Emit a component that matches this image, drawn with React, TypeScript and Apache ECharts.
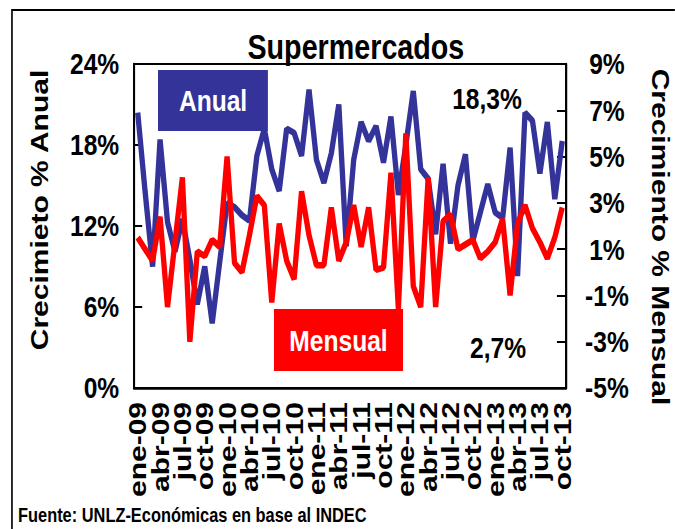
import React, { useEffect, useRef } from "react";
import * as echarts from "echarts";

const categories = [
  "ene-09","feb-09","mar-09","abr-09","may-09","jun-09","jul-09","ago-09","sep-09","oct-09","nov-09","dic-09",
  "ene-10","feb-10","mar-10","abr-10","may-10","jun-10","jul-10","ago-10","sep-10","oct-10","nov-10","dic-10",
  "ene-11","feb-11","mar-11","abr-11","may-11","jun-11","jul-11","ago-11","sep-11","oct-11","nov-11","dic-11",
  "ene-12","feb-12","mar-12","abr-12","may-12","jun-12","jul-12","ago-12","sep-12","oct-12","nov-12","dic-12",
  "ene-13","feb-13","mar-13","abr-13","may-13","jun-13","jul-13","ago-13","sep-13","oct-13",
];

// Crecimiento % Anual (left axis)
const anual = [
  20.4, 14.5, 9.0, 18.4, 12.3, 10.1, 12.5, 9.5, 6.2, 9.0, 4.8, 9.3,
  13.7, 13.4, 12.8, 12.4, 17.2, 19.2, 16.2, 14.6, 19.2, 18.9, 17.2, 22.1,
  16.9, 15.2, 17.4, 21.0, 10.5, 16.9, 19.7, 18.3, 19.4, 16.7, 20.1, 14.3,
  18.0, 22.0, 16.2, 15.5, 11.4, 16.6, 10.7, 15.0, 17.3, 10.9, 13.0, 15.1,
  13.0, 12.6, 17.8, 8.3, 20.4, 19.8, 15.9, 19.7, 14.0, 18.3,
];

// Crecimiento % Mensual (right axis)
const mensual = [
  1.5, 1.0, 0.5, 2.4, -1.5, 1.3, 4.1, -3.0, 0.9, 0.7, 1.4, 1.1,
  5.0, 0.4, 0.0, 1.6, 3.3, 2.9, -1.3, 2.1, 0.5, -0.3, 3.5, 1.6,
  0.3, 0.3, 2.8, 0.5, 1.3, 2.9, 1.1, 2.8, 0.1, 0.2, 4.3, -1.6,
  6.0, -0.6, -1.5, 4.1, -1.5, 2.2, 2.5, 1.0, 1.2, 1.4, 0.6, 0.9,
  1.3, 2.3, -1.0, 2.1, 2.9, 1.9, 1.3, 0.6, 1.5, 2.8,
];

const leftAxis = { min: 0, max: 24, interval: 6 };
const rightAxis = { min: -5, max: 9, interval: 2 };
const labelEvery = 3;

const S = 0.82;
const W = Math.round(675 / S);
const H = 529;
const FONT = '"Liberation Sans", Arial, sans-serif';
const BLUE = "#333399";
const RED = "#ff0000";

function txt(x: number, y: number, text: string, size: number, fill: string, extra: any = {}) {
  const align = extra.align || "center";
  return {
    type: "text",
    x,
    y,
    rotation: extra.rotation || 0,
    z: 100,
    style: {
      text,
      fill,
      fontSize: size,
      fontWeight: "bold",
      fontFamily: FONT,
      align,
      textAlign: align,
      verticalAlign: "middle",
      textVerticalAlign: "middle",
    },
  };
}

export default function App() {
  const ref = useRef<HTMLDivElement>(null);
  useEffect(() => {
    if (!ref.current) return;
    const chart = echarts.init(ref.current, null, { renderer: "svg", width: W, height: H });
    const axisLabelBase = { color: "#000", fontSize: 30, fontWeight: "bold", fontFamily: FONT };
    chart.setOption({
      animation: false,
      backgroundColor: "#fff",
      textStyle: { fontFamily: FONT },
      grid: {
        left: 163.4,
        right: W - 690.2,
        top: 64,
        height: 324,
        show: true,
        borderColor: "#000",
        borderWidth: 2,
        backgroundColor: "transparent",
      },
      xAxis: {
        type: "category",
        data: categories,
        boundaryGap: true,
        axisLine: { lineStyle: { color: "#000", width: 2.5 } },
        axisTick: { interval: labelEvery - 1, length: 9, lineStyle: { color: "#000", width: 2 } },
        axisLabel: {
          ...axisLabelBase,
          interval: 0,
          rotate: 90,
          margin: 14,
          showMinLabel: true,
          showMaxLabel: true,
          hideOverlap: false,
          formatter: (v: string, i: number) => (i % labelEvery === 0 ? v : ""),
        },
        splitLine: { show: false },
      },
      yAxis: [
        {
          type: "value",
          position: "left",
          ...leftAxis,
          axisLine: { show: true, lineStyle: { color: "#000", width: 2.5 } },
          axisTick: { show: true, inside: true, length: 10, lineStyle: { color: "#000", width: 2 } },
          axisLabel: { ...axisLabelBase, formatter: "{value}%", margin: 18 },
          splitLine: { show: false },
        },
        {
          type: "value",
          position: "right",
          ...rightAxis,
          axisLine: { show: true, lineStyle: { color: "#000", width: 2.5 } },
          axisTick: { show: true, inside: true, length: 11, lineStyle: { color: "#000", width: 2 } },
          axisLabel: { ...axisLabelBase, formatter: "{value}%", margin: 50, align: "center" },
          splitLine: { show: false },
        },
      ],
      series: [
        {
          type: "line",
          name: "Anual",
          data: anual,
          yAxisIndex: 0,
          symbol: "none",
          lineStyle: { color: BLUE, width: 6.5 },
          itemStyle: { color: BLUE },
        },
        {
          type: "line",
          name: "Mensual",
          data: mensual,
          yAxisIndex: 1,
          symbol: "none",
          lineStyle: { color: RED, width: 6.5 },
          itemStyle: { color: RED },
        },
      ],
      graphic: [
        {
          type: "rect",
          z: 90,
          shape: { x: 14.6, y: 10, width: 830, height: 600 },
          style: { fill: "none", stroke: "#000", lineWidth: 2 },
        },
        txt(434, 47, "Supermercados", 35, "#000"),
        { type: "rect", z: 95, shape: { x: 192.7, y: 70, width: 134, height: 61 }, style: { fill: BLUE } },
        txt(259.8, 101, "Anual", 30, "#fff"),
        { type: "rect", z: 95, shape: { x: 334.1, y: 309, width: 157.4, height: 62 }, style: { fill: RED } },
        txt(412.8, 341, "Mensual", 30, "#fff"),
        txt(593.9, 99, "18,3%", 30, "#000"),
        txt(607.3, 348, "2,7%", 30, "#000"),
        txt(47.6, 210, "Crecimieto % Anual", 30, "#000", { rotation: Math.PI / 2 }),
        txt(806, 237, "Crecimiento % Mensual", 30, "#000", { rotation: -Math.PI / 2 }),
        txt(22, 515, "Fuente: UNLZ-Económicas en base al INDEC", 20, "#000", { align: "left" }),
      ],
    });
    return () => chart.dispose();
  }, []);
  return (
    <div
      style={{
        position: "fixed",
        left: 0,
        top: 0,
        width: 675,
        height: H,
        overflow: "hidden",
        background: "#fff",
      }}
    >
      <div
        ref={ref}
        style={{
          width: W,
          height: H,
          transform: `scaleX(${S})`,
          transformOrigin: "0 0",
        }}
      />
    </div>
  );
}
